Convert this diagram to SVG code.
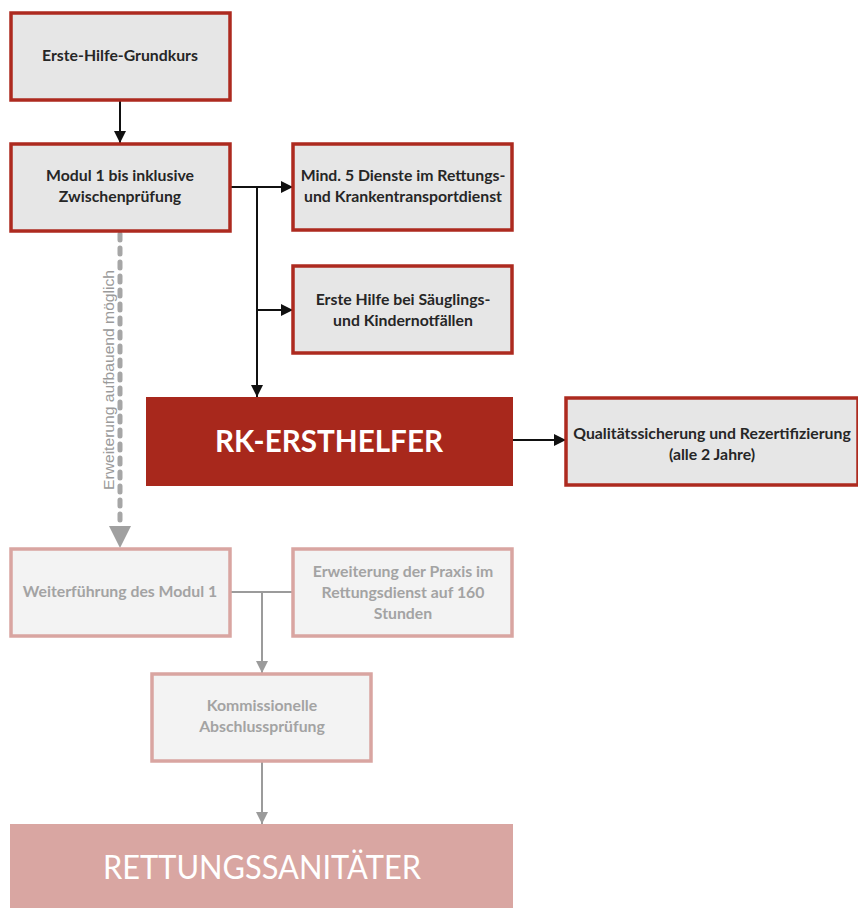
<svg xmlns="http://www.w3.org/2000/svg" width="858" height="908" viewBox="0 0 858 908">
<defs>
<style>
.bx{fill:#e6e6e6;stroke:#ad2a1f;stroke-width:3.5}
.lb{fill:#f3f3f3;stroke:#d9a5a1;stroke-width:3.5}
.t{font-family:Lato,"Noto Sans",sans-serif;font-size:15.8px;font-weight:bold;fill:#262626;text-anchor:middle}
.tl{font-family:Lato,"Noto Sans",sans-serif;font-size:15.8px;font-weight:bold;fill:#a3a3a3;text-anchor:middle}
.big{font-family:Lato,"Noto Sans",sans-serif;fill:#ffffff;text-anchor:middle}
.k{fill:none;stroke:#111;stroke-width:2}
.g{fill:none;stroke:#9b9b9b;stroke-width:2}
</style>
<marker id="ak" viewBox="0 0 12 12" refX="12" refY="6" markerWidth="12" markerHeight="12" markerUnits="userSpaceOnUse" orient="auto"><path d="M0,0 L12,6 L0,12 Z" fill="#111"/></marker>
<marker id="ag" viewBox="0 0 12 12" refX="12" refY="6" markerWidth="12" markerHeight="12" markerUnits="userSpaceOnUse" orient="auto"><path d="M0,0 L12,6 L0,12 Z" fill="#9b9b9b"/></marker>
</defs>
<rect width="858" height="908" fill="#ffffff"/>
<g id="connectors">
<line class="k" x1="120" y1="100" x2="120" y2="143" marker-end="url(#ak)"/>
<line class="k" x1="230" y1="187" x2="293" y2="187" marker-end="url(#ak)"/>
<line class="k" x1="257" y1="187" x2="257" y2="397" marker-end="url(#ak)"/>
<line class="k" x1="257" y1="310" x2="293" y2="310" marker-end="url(#ak)"/>
<line class="k" x1="513" y1="440" x2="566" y2="440" marker-end="url(#ak)"/>
<line x1="120" y1="234" x2="120" y2="528" stroke="#a6a6a6" stroke-width="5" stroke-linecap="round" stroke-dasharray="6 8"/>
<path d="M109,526 L131,526 L120,548 Z" fill="#a0a0a0"/>
<text transform="translate(114,380) rotate(-90)" font-family="'Liberation Sans',Arial,sans-serif" font-size="14" fill="#9a9a9a" text-anchor="middle" textLength="220" lengthAdjust="spacingAndGlyphs">Erweiterung aufbauend möglich</text>
<line class="g" x1="230" y1="592" x2="293" y2="592"/>
<line class="g" x1="262" y1="592" x2="262" y2="673" marker-end="url(#ag)"/>
<line class="g" x1="262" y1="762" x2="262" y2="824" marker-end="url(#ag)"/>
</g>
<g id="n1"><rect class="bx" x="11" y="13" width="219" height="87"/><text class="t" x="120" y="61">Erste-Hilfe-Grundkurs</text></g>
<g id="n2"><rect class="bx" x="11" y="144" width="219" height="87"/><text class="t" x="120" y="181">Modul 1 bis inklusive</text><text class="t" x="120" y="202">Zwischenprüfung</text></g>
<g id="n3"><rect class="bx" x="293" y="144" width="219" height="86"/><text class="t" x="403" y="181">Mind. 5 Dienste im Rettungs-</text><text class="t" x="403" y="202">und Krankentransportdienst</text></g>
<g id="n4"><rect class="bx" x="293" y="266" width="219" height="87"/><text class="t" x="403" y="305">Erste Hilfe bei Säuglings-</text><text class="t" x="403" y="326">und Kindernotfällen</text></g>
<g id="n5"><rect x="146" y="397" width="367" height="89" fill="#a8281c"/><text class="big" x="329" y="452" font-size="31" font-weight="bold" textLength="228" lengthAdjust="spacingAndGlyphs">RK-ERSTHELFER</text></g>
<g id="n6"><rect class="bx" x="566" y="398" width="292" height="87"/><text class="t" x="712" y="439">Qualitätssicherung und Rezertifizierung</text><text class="t" x="712" y="460">(alle 2 Jahre)</text></g>
<g id="n7"><rect class="lb" x="11" y="549" width="219" height="87"/><text class="tl" x="120" y="597">Weiterführung des Modul 1</text></g>
<g id="n8"><rect class="lb" x="293" y="549" width="219" height="87"/><text class="tl" x="403" y="577">Erweiterung der Praxis im</text><text class="tl" x="403" y="598">Rettungsdienst auf 160</text><text class="tl" x="403" y="619">Stunden</text></g>
<g id="n9"><rect class="lb" x="152" y="674" width="219" height="87"/><text class="tl" x="262" y="711">Kommissionelle</text><text class="tl" x="262" y="732">Abschlussprüfung</text></g>
<g id="n10"><rect x="10" y="824" width="503" height="84" fill="#d9a6a2"/><text class="big" x="262" y="879" font-size="32" textLength="318" lengthAdjust="spacingAndGlyphs">RETTUNGSSANITÄTER</text></g>
</svg>
